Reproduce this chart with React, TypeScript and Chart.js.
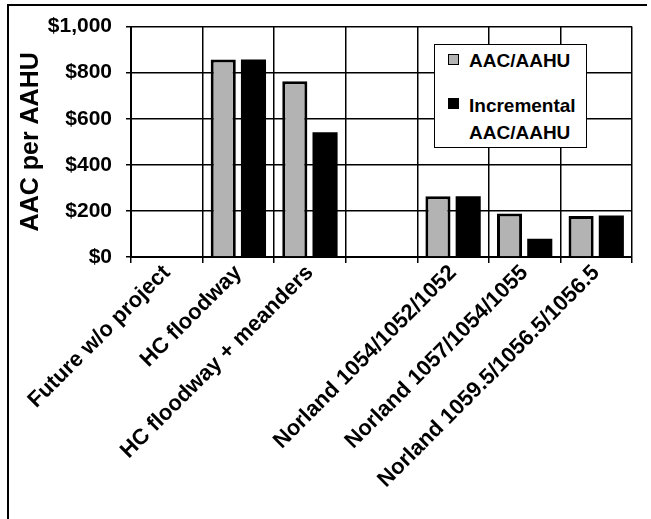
import React, { useEffect, useRef } from "react";
import { Chart, registerables } from "chart.js";

Chart.register(...registerables);

const categories = [
  "Future w/o project",
  "HC floodway",
  "HC floodway + meanders",
  "",
  "Norland 1054/1052/1052",
  "Norland 1057/1054/1055",
  "Norland 1059.5/1056.5/1056.5",
];
const aacPerAahu = [null, 857, 763, null, 264, 189, 178];
const incrementalAacPerAahu = [null, 857, 541, null, 264, 79, 180];
const seriesNames = ["AAC/AAHU", "Incremental AAC/AAHU"];
const yAxisTitle = "AAC per AAHU";
const yMin = 0;
const yMax = 1000;
const yStep = 200;

const FONT = '"Liberation Sans", Arial, Helvetica, sans-serif';

export default function App() {
  const ref = useRef<HTMLCanvasElement | null>(null);

  useEffect(() => {
    const canvas = ref.current;
    if (!canvas) return;
    const chart = new Chart(canvas, {
      type: "bar",
      data: {
        labels: categories,
        datasets: [
          {
            label: seriesNames[0],
            data: aacPerAahu,
            backgroundColor: "#b3b3b3",
            borderColor: "#000",
            borderWidth: 3,
            categoryPercentage: 0.845,
            barPercentage: 0.83,
          },
          {
            label: seriesNames[1],
            data: incrementalAacPerAahu,
            backgroundColor: "#000",
            borderColor: "#000",
            borderWidth: 0,
            categoryPercentage: 0.845,
            barPercentage: 0.83,
          },
        ],
      },
      options: {
        responsive: false,
        animation: false,
        devicePixelRatio: 1,
        layout: { padding: { left: 0, right: 19, top: 26, bottom: 0 } },
        plugins: {
          legend: { display: false },
          tooltip: { enabled: false },
        },
        scales: {
          x: {
            offset: true,
            grid: {
              display: true,
              offset: true,
              color: "#000",
              lineWidth: 1.5,
              tickLength: 6,
              drawTicks: true,
            },
            border: { display: true, color: "#000", width: 2 },
            ticks: {
              color: "#000",
              font: { family: FONT, size: 22, weight: "bold" },
              minRotation: 45,
              maxRotation: 45,
              autoSkip: false,
              padding: -3,
            },
            afterFit: (scale: any) => {
              scale.height = 262;
            },
          },
          y: {
            min: yMin,
            max: yMax,
            grid: {
              color: "#000",
              lineWidth: 1.5,
              tickLength: 5,
              drawTicks: true,
            },
            border: { display: true, color: "#000", width: 2 },
            ticks: {
              stepSize: yStep,
              color: "#000",
              padding: 14,
              font: { family: FONT, size: 21, weight: "bold" },
              callback: (v: any) => "$" + Number(v).toLocaleString("en-US"),
            },
            title: {
              display: true,
              text: yAxisTitle,
              color: "#000",
              font: { family: FONT, size: 25, weight: "bold" },
              padding: { top: 16, bottom: 0 },
            },
            afterFit: (scale: any) => {
              scale.width = 131;
            },
          },
        },
      },
    });
    return () => chart.destroy();
  }, []);

  const swatch = (bg: string): React.CSSProperties => ({
    position: "absolute",
    width: 9,
    height: 9,
    background: bg,
    border: "1.5px solid #000",
  });
  const txt: React.CSSProperties = {
    position: "absolute",
    fontFamily: FONT,
    fontWeight: "bold",
    fontSize: 19,
    lineHeight: "19px",
    color: "#000",
    whiteSpace: "nowrap",
  };

  return (
    <div
      style={{
        position: "fixed",
        left: 0,
        top: 0,
        width: 651,
        height: 519,
        background: "#fff",
        overflow: "hidden",
      }}
    >
      <div
        style={{
          position: "absolute",
          left: 7,
          top: 4,
          width: 638,
          height: 600,
          borderTop: "2px solid #000",
          borderLeft: "2px solid #000",
        }}
      />
      <canvas
        ref={ref}
        width={651}
        height={519}
        style={{ position: "absolute", left: 0, top: 0, width: 651, height: 519 }}
      />
      <div
        style={{
          position: "absolute",
          left: 434,
          top: 44,
          width: 151,
          height: 102,
          border: "1.5px solid #000",
          background: "#fff",
        }}
      >
        <div style={{ ...swatch("#b3b3b3"), left: 13, top: 9 }} />
        <div style={{ ...txt, left: 34, top: 6 }}>{seriesNames[0]}</div>
        <div style={{ ...swatch("#000"), left: 13, top: 53 }} />
        <div style={{ ...txt, left: 34, top: 51 }}>Incremental</div>
        <div style={{ ...txt, left: 34, top: 78 }}>AAC/AAHU</div>
      </div>
    </div>
  );
}
